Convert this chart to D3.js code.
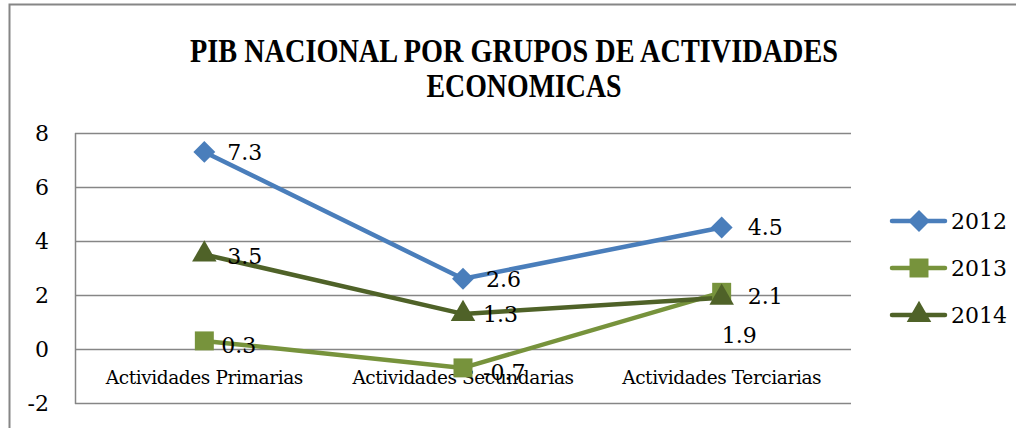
<!DOCTYPE html>
<html>
<head>
<meta charset="utf-8">
<script src="https://cdn.jsdelivr.net/npm/d3@7"></script>
<style>
  body { margin: 0; background: #fff; }
  svg { display: block; }
</style>
</head>
<body>
<svg id="chart"></svg>
<script>
// chart data
const categories = ["Actividades Primarias", "Actividades Secundarias", "Actividades Terciarias"];
const years = ["2012", "2013", "2014"];
const values2012 = [7.3, 2.6, 4.5];
const values2013 = [0.3, -0.7, 2.1];
const values2014 = [3.5, 1.3, 1.9];
const yTicks = [-2, 0, 2, 4, 6, 8];

const width = 1016;
const height = 428;

const svg = d3.select("#chart")
                .attr("width", width)
                .attr("height", height);

// colors
const BLUE = "#4A7EBB";
const LIGHT_GREEN = "#77933C";
const DARK_GREEN = "#4F6228";

// square turned 45 degrees, like the spreadsheet diamond
const wideDiamond = {
    draw(context, size) {
        const r = Math.sqrt(size / 2);
        context.moveTo(0, -r);
        context.lineTo(r, 0);
        context.lineTo(0, r);
        context.lineTo(-r, 0);
        context.closePath();
    }
};

const series = [
    { name: years[0], values: values2012, color: BLUE, symbol: wideDiamond, size: 240 },
    { name: years[1], values: values2013, color: LIGHT_GREEN, symbol: d3.symbolSquare, size: 360 },
    { name: years[2], values: values2014, color: DARK_GREEN, symbol: d3.symbolTriangle, size: 260 }
];

// outer chart border
svg.append("rect")
    .attr("x", 9.5)
    .attr("y", 4.5)
    .attr("width", 1100)
    .attr("height", 500)
    .attr("fill", "none")
    .attr("stroke", "#868686")
    .attr("stroke-width", 2);

// title
const titleFont = "'Liberation Serif', 'DejaVu Serif', serif";
svg.append("text")
    .attr("x", 514)
    .attr("y", 62)
    .attr("text-anchor", "middle")
    .attr("font-family", titleFont)
    .attr("font-weight", "bold")
    .attr("font-size", 34)
    .attr("textLength", 648)
    .attr("lengthAdjust", "spacingAndGlyphs")
    .text("PIB NACIONAL POR GRUPOS DE ACTIVIDADES");
svg.append("text")
    .attr("x", 524)
    .attr("y", 97)
    .attr("text-anchor", "middle")
    .attr("font-family", titleFont)
    .attr("font-weight", "bold")
    .attr("font-size", 34)
    .attr("textLength", 195)
    .attr("lengthAdjust", "spacingAndGlyphs")
    .text("ECONOMICAS");

// scales
const x = d3.scaleBand()
            .domain(categories)
            .range([75, 851]);

const y = d3.scaleLinear()
            .domain([-2, 8])
            .range([403, 133]);

const cx = c => x(c) + x.bandwidth() / 2;

const serif = "'DejaVu Serif', 'Liberation Serif', serif";

// gridlines
svg.append("g")
    .selectAll("line")
    .data(yTicks)
    .enter()
    .append("line")
    .attr("x1", 75)
    .attr("x2", 851)
    .attr("y1", d => y(d) + 0.5)
    .attr("y2", d => y(d) + 0.5)
    .attr("stroke", "#868686")
    .attr("stroke-width", 1.5);

// left axis line
svg.append("line")
    .attr("x1", 75.5).attr("x2", 75.5)
    .attr("y1", y(8)).attr("y2", y(-2) + 1)
    .attr("stroke", "#868686")
    .attr("stroke-width", 1.5);

// y tick labels
svg.append("g")
    .selectAll("text")
    .data(yTicks)
    .enter()
    .append("text")
    .attr("x", 49)
    .attr("y", d => y(d))
    .attr("dy", "0.35em")
    .attr("text-anchor", "end")
    .attr("font-family", serif)
    .attr("font-size", 22)
    .text(d => d);

// category labels
svg.append("g")
    .selectAll("text")
    .data(categories)
    .enter()
    .append("text")
    .attr("x", c => cx(c))
    .attr("y", 384)
    .attr("text-anchor", "middle")
    .attr("font-family", serif)
    .attr("font-size", 18.5)
    .attr("letter-spacing", -0.4)
    .text(c => c);

// lines
const line = d3.line()
                .x((d, i) => cx(categories[i]))
                .y(d => y(d));

series.forEach(s => {
    svg.append("path")
        .datum(s.values)
        .attr("d", line)
        .attr("fill", "none")
        .attr("stroke", s.color)
        .attr("stroke-width", 4.5)
        .attr("stroke-linejoin", "round");
});

// markers
series.forEach(s => {
    svg.append("g")
        .selectAll("path")
        .data(s.values)
        .enter()
        .append("path")
        .attr("transform", (d, i) => `translate(${cx(categories[i])},${y(d)})`)
        .attr("d", d3.symbol().type(s.symbol).size(s.size))
        .attr("fill", s.color);
});

// data labels
const labelOffsets = {
    "2012": [[23, 0], [23, 0], [26, 0]],
    "2013": [[17, 4], [20, 4], [26, 4]],
    "2014": [[23, 2], [20, 0], [0, 38]]
};
series.forEach(s => {
    svg.append("g")
        .selectAll("text")
        .data(s.values)
        .enter()
        .append("text")
        .attr("x", (d, i) => cx(categories[i]) + labelOffsets[s.name][i][0])
        .attr("y", (d, i) => y(d) + labelOffsets[s.name][i][1])
        .attr("dy", "0.35em")
        .attr("font-family", serif)
        .attr("font-size", 22)
        .text(d => d.toFixed(1));
});

// legend
const legendY = d3.scalePoint()
                    .domain(years)
                    .range([221, 315]);

const legend = svg.append("g");
series.forEach(s => {
    const ly = legendY(s.name);
    legend.append("line")
        .attr("x1", 892).attr("x2", 945)
        .attr("y1", ly).attr("y2", ly)
        .attr("stroke", s.color)
        .attr("stroke-width", 4.5)
        .attr("stroke-linecap", "round");
    legend.append("path")
        .attr("transform", `translate(919,${ly})`)
        .attr("d", d3.symbol().type(s.symbol).size(s.size))
        .attr("fill", s.color);
    legend.append("text")
        .attr("x", 951)
        .attr("y", ly)
        .attr("dy", "0.35em")
        .attr("font-family", serif)
        .attr("font-size", 22)
        .text(s.name);
});
</script>
</body>
</html>
